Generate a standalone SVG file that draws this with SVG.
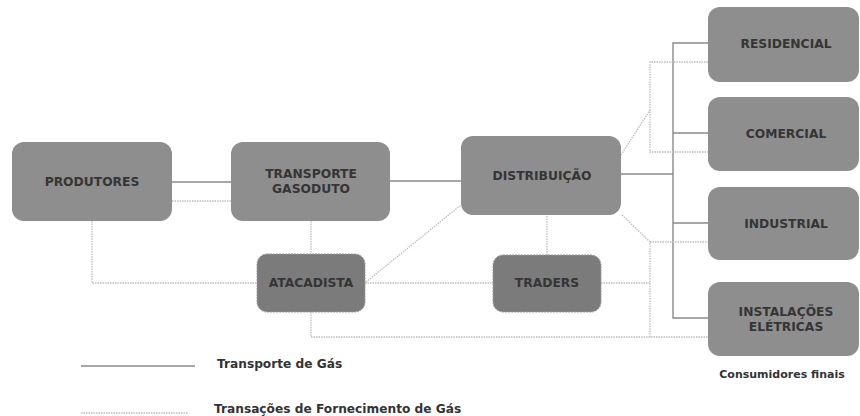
<svg xmlns="http://www.w3.org/2000/svg" width="860" height="416" viewBox="0 0 860 416">
  <style>
    .box { fill: #8e8e8e; }
    .box2 { fill: #7b7b7b; stroke: #9a9a9a; stroke-width: 1; stroke-dasharray: 2 1; }
    .lbl { font-family: "DejaVu Sans", Verdana, sans-serif; font-weight: bold; font-size: 12.3px; fill: #353535; text-anchor: middle; dominant-baseline: central; }
    .leg { font-family: "DejaVu Sans", Verdana, sans-serif; font-weight: bold; font-size: 12.2px; fill: #333; dominant-baseline: central; }
    .cap { font-family: "DejaVu Sans", Verdana, sans-serif; font-weight: bold; font-size: 11px; fill: #333; text-anchor: middle; dominant-baseline: central; }
    .solid { fill: none; stroke: #8a8a8a; stroke-width: 1.4; }
    .dot { fill: none; stroke: #bdbdbd; stroke-width: 1.3; stroke-dasharray: 1.5 1; }
  </style>
  <rect width="860" height="416" fill="#ffffff"/>

  <g id="connectors">
    <!-- gas transport (solid) -->
    <path class="solid" d="M172 182 H231"/>
    <path class="solid" d="M390 181 H461"/>
    <path class="solid" d="M621 174 H673"/>
    <path class="solid" d="M708 43 H673 V318 H708"/>
    <path class="solid" d="M673 133 H708"/>
    <path class="solid" d="M673 223 H708"/>
    <!-- supply transactions (dotted) -->
    <path class="dot" d="M172 201 H231"/>
    <path class="dot" d="M92 221 V283 H257"/>
    <path class="dot" d="M311 221 V254"/>
    <path class="dot" d="M311 312 V337 H708"/>
    <path class="dot" d="M365 283 H493"/>
    <path class="dot" d="M366 282 L461 205"/>
    <path class="dot" d="M547 216 V255"/>
    <path class="dot" d="M601 283 H650"/>
    <path class="dot" d="M622 215 L650 242 V337"/>
    <path class="dot" d="M650 242 H708"/>
    <path class="dot" d="M621 155 L650 110"/>
    <path class="dot" d="M708 62 H650 V152 H708"/>
  </g>

  <g id="produtores">
    <rect class="box" x="12" y="142" width="160" height="79" rx="12"/>
    <text class="lbl" x="92" y="182">PRODUTORES</text>
  </g>
  <g id="transporte">
    <rect class="box" x="231" y="142" width="159" height="79" rx="12"/>
    <text class="lbl" x="311" y="174">TRANSPORTE</text>
    <text class="lbl" x="311" y="189">GASODUTO</text>
  </g>
  <g id="distribuicao">
    <rect class="box" x="461" y="136" width="160" height="79" rx="12"/>
    <text class="lbl" x="542" y="176">DISTRIBUIÇÃO</text>
  </g>
  <g id="atacadista">
    <rect class="box2" x="257" y="254" width="108" height="58" rx="10"/>
    <text class="lbl" x="311" y="283">ATACADISTA</text>
  </g>
  <g id="traders">
    <rect class="box2" x="493" y="255" width="108" height="57" rx="10"/>
    <text class="lbl" x="547" y="283">TRADERS</text>
  </g>
  <g id="residencial">
    <rect class="box" x="708" y="7" width="151" height="75" rx="12"/>
    <text class="lbl" x="786" y="44">RESIDENCIAL</text>
  </g>
  <g id="comercial">
    <rect class="box" x="708" y="97" width="151" height="74" rx="12"/>
    <text class="lbl" x="786" y="134">COMERCIAL</text>
  </g>
  <g id="industrial">
    <rect class="box" x="708" y="187" width="151" height="73" rx="12"/>
    <text class="lbl" x="786" y="224">INDUSTRIAL</text>
  </g>
  <g id="instalacoes">
    <rect class="box" x="708" y="282" width="151" height="74" rx="12"/>
    <text class="lbl" x="786" y="312">INSTALAÇÕES</text>
    <text class="lbl" x="786" y="327">ELÉTRICAS</text>
  </g>
  <text class="cap" x="782" y="374">Consumidores finais</text>

  <g id="legend">
    <path class="solid" d="M81 366 H195"/>
    <text class="leg" x="217" y="364">Transporte de Gás</text>
    <path class="dot" d="M81 413 H188"/>
    <text class="leg" x="214" y="409">Transações de Fornecimento de Gás</text>
  </g>
</svg>
